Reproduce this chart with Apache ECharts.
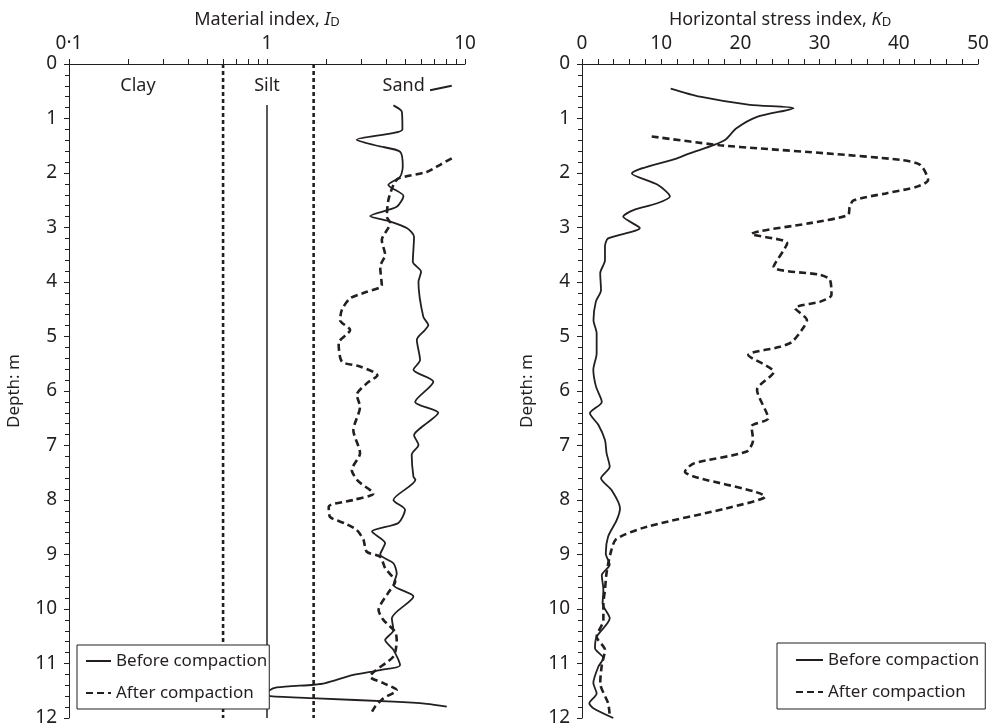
<!DOCTYPE html>
<html>
<head>
<meta charset="utf-8">
<script src="https://cdn.jsdelivr.net/npm/echarts@6/dist/echarts.min.js"></script>
<style>
html,body{margin:0;padding:0;background:#fff;}
#chart{width:995px;height:728px;}
</style>
</head>
<body>
<div id="chart"></div>
<script>
// ---- Left panel: Material index I_D (log scale) ----
const idBeforeValue = [4.35,4.8,4.83,4.3,2.84,3.6,4.7,4.85,4.7,4.1,4.89,4.52,3.32,4.19,5.08,5.53,5.45,6.0,5.82,6.16,6.53,6.28,5.71,5.93,5.49,6.92,5.6,7.33,6.05,5.53,5.82,5.38,5.49,5.62,4.35,4.98,4.61,3.39,3.95,3.73,4.35,4.52,4.35,5.49,4.27,4.35,3.95,4.35,4.7,3.73,2.73,1.97,1.72,1.12,1.02,1.0,1.04,1.79,4.35,6.41,8.09];
const idBeforeDepth = [0.76,0.88,1.2,1.27,1.39,1.5,1.61,1.88,2.07,2.22,2.42,2.62,2.79,2.89,3.01,3.17,3.63,3.81,4.0,4.64,4.79,4.88,5.06,5.43,5.61,5.83,6.2,6.4,6.66,6.81,6.99,7.17,7.57,7.63,8.0,8.18,8.42,8.58,8.79,9.0,9.16,9.35,9.56,9.77,10.17,10.39,10.57,10.75,11.03,11.12,11.21,11.36,11.39,11.44,11.5,11.55,11.6,11.64,11.7,11.74,11.79];
const idAfterValue = [8.57,7.48,6.41,4.61,4.35,4.10,4.03,4.19,3.80,3.95,3.73,3.80,3.19,2.63,2.39,2.34,2.63,2.30,2.39,2.95,3.61,3.19,2.84,2.95,2.73,2.95,2.68,2.90,3.45,2.73,2.05,2.08,2.48,2.84,3.07,3.19,3.73,3.95,4.44,4.10,3.66,3.87,4.44,4.52,4.35,3.32,3.87,4.52,3.87,3.52,3.32];
const idAfterDepth = [1.73,1.85,1.98,2.10,2.22,2.50,2.80,2.92,3.23,3.50,3.72,4.06,4.18,4.30,4.51,4.70,4.88,5.12,5.46,5.55,5.71,5.86,6.07,6.29,6.72,7.14,7.45,7.66,7.88,8.0,8.12,8.31,8.43,8.55,8.73,8.95,9.04,9.25,9.5,9.70,10.02,10.20,10.42,10.57,10.87,11.24,11.36,11.49,11.64,11.79,11.95];
const idStrayValue = [6.66, 8.57];
const idStrayDepth = [0.48, 0.40];
const idBoundaryValues = [0.6, 1.72];
const idUnitLineValue = 1;
const idUnitLineDepth = [0.75, 12];
const zoneLabels = ['Clay', 'Silt', 'Sand'];
const zoneLabelID = [0.223, 1.0, 4.9];
const zoneLabelDepth = 0.4;
const idTickValues = [0.1,0.2,0.3,0.4,0.5,0.6,0.7,0.8,0.9,1,2,3,4,5,6,7,8,9,10];
const idLabelValues = [0.1, 1, 10];

// ---- Right panel: Horizontal stress index K_D ----
const kdBeforeValue = [11.2,14.9,21.2,26.7,22.1,19.5,18.1,16.6,13.6,12.0,6.3,9.6,11.1,9.4,6.5,5.2,7.3,3.3,2.9,2.9,2.3,2.4,1.75,1.45,1.85,1.85,1.43,1.77,2.5,1.0,2.06,2.9,3.1,3.5,2.4,3.75,4.8,4.38,3.3,3.0,3.5,2.5,2.7,2.6,3.5,1.85,1.64,2.7,2.06,1.43,1.85,0.92,1.43,3.95];
const kdBeforeDepth = [0.45,0.6,0.75,0.81,0.97,1.18,1.39,1.49,1.64,1.73,2.01,2.22,2.43,2.56,2.68,2.8,3.01,3.2,3.35,3.6,3.84,4.15,4.36,4.7,4.94,5.31,5.61,5.92,6.2,6.41,6.62,6.9,7.14,7.39,7.6,7.82,8.15,8.37,8.67,8.98,9.19,9.38,9.65,9.9,10.17,10.51,10.72,10.9,11.06,11.36,11.55,11.73,11.82,12.0];
const kdAfterValue = [8.8,17.4,22.5,30.9,40.2,42.7,43.7,42.3,38.5,34.3,33.8,33.6,28.8,21.4,25.9,24.2,30.1,31.3,31.5,30.1,26.9,28.4,27.9,26.5,25.0,21.0,24.2,22.1,23.5,21.4,21.6,20.8,14.1,13.0,14.1,23.1,18.3,8.2,4.3,3.6,3.1,2.9,2.7,2.7,1.85,2.9,2.5,2.3,3.3,3.5];
const kdAfterDepth = [1.33,1.49,1.55,1.64,1.76,1.85,2.13,2.25,2.37,2.5,2.62,2.77,2.92,3.12,3.29,3.72,3.87,3.96,4.24,4.36,4.48,4.7,4.85,5.1,5.19,5.34,5.65,5.98,6.5,6.65,6.9,7.11,7.33,7.48,7.57,7.94,8.15,8.49,8.72,8.98,9.34,9.65,9.9,10.2,10.51,10.75,11.03,11.36,11.73,11.95];

const depthMin = 0, depthMax = 12, depthInterval = 1;
const seriesNames = ['Before compaction', 'After compaction'];

const zip = (xs, ys) => xs.map((x, i) => [x, ys[i]]);
const INK = '#231f20';
const FONT = 'Noto Sans';

const chart = echarts.init(document.getElementById('chart'), null, {renderer: 'canvas'});

const solidStyle = {color: INK, width: 1.8, type: 'solid'};
const dashStyle = {color: INK, width: 2.6, type: [7, 4]};
const dotStyle = {color: INK, width: 2.6, type: [4, 3]};

function yAxisFor(gridIndex) {
  return {
    type: 'value', gridIndex, inverse: true, min: depthMin, max: depthMax, interval: depthInterval,
    name: 'Depth: m', nameLocation: 'middle', nameGap: 46,
    nameTextStyle: {fontFamily: FONT, fontSize: 17, color: INK},
    axisLine: {show: true, onZero: false, lineStyle: {color: INK, width: 1}},
    axisTick: {show: true, length: 5, lineStyle: {color: INK}},
    minorTick: {show: true, splitNumber: 5, length: 4, lineStyle: {color: INK}},
    axisLabel: {fontFamily: FONT, fontSize: 19, color: INK, margin: 12},
    splitLine: {show: false}, minorSplitLine: {show: false}
  };
}

const titleRich = {
  t: {fontFamily: FONT, fontSize: 18, color: INK, lineHeight: 24, verticalAlign: 'bottom'},
  i: {fontFamily: FONT, fontSize: 18, color: INK, fontStyle: 'italic', lineHeight: 24, verticalAlign: 'bottom'},
  s: {fontFamily: FONT, fontSize: 13, color: INK, lineHeight: 12, verticalAlign: 'bottom'}
};

const legendBase = {
  data: seriesNames, orient: 'vertical', itemGap: 12, itemHeight: 14,
  backgroundColor: '#fff', borderColor: INK, borderWidth: 1, borderRadius: 0,
  itemStyle: {opacity: 0, borderWidth: 0},
  textStyle: {fontFamily: FONT, fontSize: 17, color: INK, lineHeight: 20},
  selectedMode: false, z: 10
};

const option = {
  animation: false,
  backgroundColor: '#fff',
  grid: [
    {left: 69, right: 530, top: 64, bottom: 10},
    {left: 582, right: 17, top: 64, bottom: 10}
  ],
  xAxis: [
    {
      type: 'log', logBase: 10, gridIndex: 0, position: 'top', min: 0.1, max: 10,
      name: '{t|Material index, }{i|I}{s|D}', nameLocation: 'middle', nameGap: 33,
      nameTextStyle: {rich: titleRich},
      axisLine: {show: true, onZero: false, lineStyle: {color: INK, width: 1}},
      axisTick: {show: true, length: 5, customValues: idTickValues, lineStyle: {color: INK}},
      axisLabel: {fontFamily: FONT, fontSize: 19, color: INK, margin: 11, customValues: idLabelValues,
        formatter: v => String(v).replace('.', '·')},
      splitLine: {show: false}
    },
    {
      type: 'value', gridIndex: 1, position: 'top', min: 0, max: 50, interval: 10,
      name: '{t|Horizontal stress index, }{i|K}{s|D}', nameLocation: 'middle', nameGap: 33,
      nameTextStyle: {rich: titleRich},
      axisLine: {show: true, onZero: false, lineStyle: {color: INK, width: 1}},
      axisTick: {show: true, length: 5, lineStyle: {color: INK}},
      minorTick: {show: true, splitNumber: 5, length: 5, lineStyle: {color: INK}},
      axisLabel: {fontFamily: FONT, fontSize: 19, color: INK, margin: 11},
      splitLine: {show: false}, minorSplitLine: {show: false}
    }
  ],
  yAxis: [yAxisFor(0), yAxisFor(1)],
  legend: [
    Object.assign({}, legendBase, {left: 77, top: 645, padding: [6, 2, 6, 8], itemWidth: 25}),
    Object.assign({}, legendBase, {left: 777, top: 643, padding: [7, 6, 7, 18], itemWidth: 27})
  ],
  series: [
    ...idBoundaryValues.map(v => ({
      type: 'line', xAxisIndex: 0, yAxisIndex: 0, symbol: 'none', silent: true,
      data: [[v, depthMin], [v, depthMax]], lineStyle: dotStyle, z: 1
    })),
    {
      type: 'line', xAxisIndex: 0, yAxisIndex: 0, symbol: 'none', silent: true,
      data: idUnitLineDepth.map(d => [idUnitLineValue, d]),
      lineStyle: {color: '#000', width: 1.3}, z: 1
    },
    {
      type: 'scatter', xAxisIndex: 0, yAxisIndex: 0, symbolSize: 0, silent: true,
      itemStyle: {opacity: 1},
      data: zoneLabels.map((n, i) => ({value: [zoneLabelID[i], zoneLabelDepth], name: n})),
      label: {show: true, position: 'inside', formatter: p => p.name,
        fontFamily: FONT, fontSize: 18, color: INK}
    },
    {
      name: seriesNames[0], type: 'line', xAxisIndex: 0, yAxisIndex: 0, symbol: 'none',
      smooth: 0.25, data: zip(idBeforeValue, idBeforeDepth), lineStyle: solidStyle, itemStyle: {color: INK}, z: 3
    },
    {
      name: seriesNames[1], type: 'line', xAxisIndex: 0, yAxisIndex: 0, symbol: 'none',
      smooth: 0.25, data: zip(idAfterValue, idAfterDepth), lineStyle: dashStyle, itemStyle: {color: INK}, z: 3
    },
    {
      type: 'line', xAxisIndex: 0, yAxisIndex: 0, symbol: 'none', silent: true,
      data: zip(idStrayValue, idStrayDepth), lineStyle: {color: INK, width: 2}, z: 3
    },
    {
      name: seriesNames[0], type: 'line', xAxisIndex: 1, yAxisIndex: 1, symbol: 'none',
      smooth: 0.25, data: zip(kdBeforeValue, kdBeforeDepth), lineStyle: solidStyle, itemStyle: {color: INK}, z: 3
    },
    {
      name: seriesNames[1], type: 'line', xAxisIndex: 1, yAxisIndex: 1, symbol: 'none',
      smooth: 0.25, data: zip(kdAfterValue, kdAfterDepth), lineStyle: dashStyle, itemStyle: {color: INK}, z: 3
    }
  ]
};
chart.setOption(option);
</script>
</body>
</html>
